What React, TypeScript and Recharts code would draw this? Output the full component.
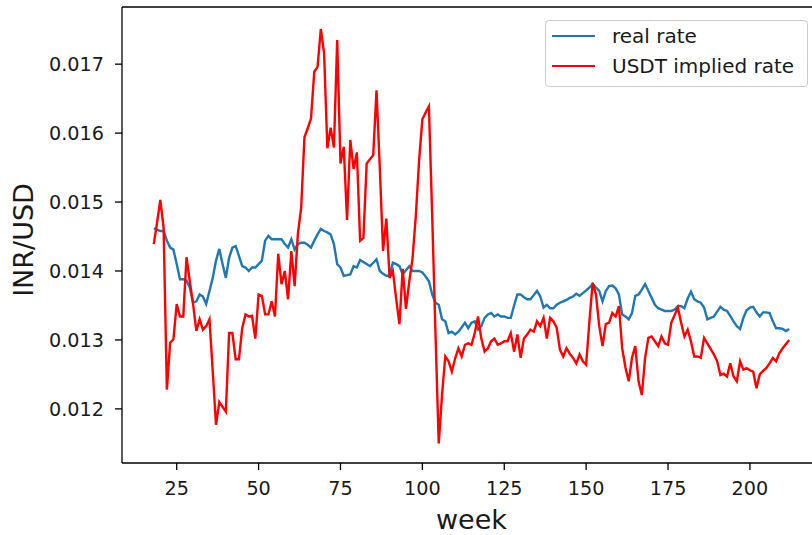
import { LineChart, Line, XAxis, YAxis, Legend, ReferenceLine } from "recharts";

// weekly values, first point is week 18
const firstWeek = 18;

const realRate = [
  0.01462, 0.0146, 0.01458, 0.01458, 0.01444, 0.01434, 0.01431, 0.0141, 0.01388, 0.01388,
  0.01386, 0.01376, 0.01354, 0.01356, 0.01366, 0.01363, 0.01352, 0.01371, 0.0139, 0.01415,
  0.01432, 0.0141, 0.0139, 0.01419, 0.01434, 0.01436, 0.01422, 0.01407, 0.01405, 0.014,
  0.01405, 0.01405, 0.0141, 0.01415, 0.01444, 0.01451, 0.01446, 0.01446, 0.01446, 0.01446,
  0.01439, 0.01434, 0.01446, 0.01431, 0.01439, 0.01441, 0.01441, 0.01438, 0.01434, 0.01444,
  0.01453, 0.01461, 0.01458, 0.01456, 0.01453, 0.01439, 0.0141, 0.01405, 0.01393, 0.01394,
  0.01395, 0.01407, 0.01405, 0.01416, 0.01413, 0.0141, 0.01407, 0.01412, 0.01417, 0.014,
  0.01396, 0.01393, 0.01393, 0.01412, 0.0141, 0.01407, 0.01395, 0.01401, 0.01407, 0.014,
  0.014, 0.014, 0.01398, 0.01392, 0.01385, 0.01366, 0.01354, 0.01351, 0.0133, 0.01327,
  0.0131, 0.01312, 0.01308, 0.01312, 0.01318, 0.01325, 0.01317, 0.01325, 0.01327, 0.01315,
  0.0132, 0.01332, 0.01337, 0.01339, 0.01334, 0.01337, 0.01334, 0.01334, 0.01332, 0.01332,
  0.0135, 0.01366, 0.01366, 0.01362, 0.01359, 0.01359, 0.01365, 0.01371, 0.01363, 0.01347,
  0.01351, 0.01346, 0.01346, 0.01351, 0.01354, 0.01356, 0.01358, 0.01361, 0.01363, 0.01367,
  0.01364, 0.01368, 0.01372, 0.01376, 0.01381, 0.01376, 0.01371, 0.01356, 0.01371, 0.01378,
  0.01379, 0.01375, 0.01366, 0.01337, 0.01334, 0.0133, 0.01339, 0.01364, 0.01366, 0.01373,
  0.01381, 0.01371, 0.01361, 0.01351, 0.01346, 0.01344, 0.01342, 0.01342, 0.01342, 0.01344,
  0.01349, 0.01349, 0.01346, 0.0136, 0.0137, 0.01359, 0.01356, 0.01354, 0.01347, 0.0133,
  0.01332, 0.01334, 0.01341, 0.01348, 0.01344, 0.01342, 0.01335, 0.01327, 0.0132, 0.01316,
  0.01332, 0.01343, 0.01347, 0.01348, 0.0134, 0.01334, 0.0134, 0.0134, 0.01339, 0.01327,
  0.01317, 0.01317, 0.01316, 0.01313, 0.01316,
];

const usdtRate = [
  0.01439, 0.0147, 0.01503, 0.01463, 0.01228, 0.01296, 0.01301, 0.01352, 0.01334, 0.01334,
  0.0142, 0.01385, 0.01352, 0.01313, 0.0133, 0.01315, 0.0132, 0.0133, 0.01255, 0.01177,
  0.0121, 0.01203, 0.01196, 0.0131, 0.0131, 0.01272, 0.01272, 0.01317, 0.01337, 0.01334,
  0.01335, 0.01302, 0.01366, 0.01364, 0.01337, 0.01337, 0.01356, 0.01334, 0.01425, 0.01381,
  0.014, 0.01359, 0.01429, 0.01378, 0.01454, 0.01492, 0.01594, 0.01607, 0.01621, 0.01689,
  0.01696, 0.01751, 0.01716, 0.01578, 0.01608, 0.01579, 0.01735, 0.01556, 0.0158, 0.01474,
  0.0159, 0.01548, 0.01572, 0.01444, 0.01448, 0.01556, 0.01562, 0.01568, 0.01662, 0.0155,
  0.01429, 0.01476, 0.0139, 0.014, 0.0136, 0.01323, 0.01403, 0.01345, 0.01385, 0.01418,
  0.0148, 0.0156, 0.0162, 0.0163, 0.01639, 0.0148, 0.0131, 0.0115, 0.0122, 0.01276,
  0.01269, 0.01254, 0.01273, 0.01288, 0.01276, 0.01293, 0.01295, 0.01293, 0.0131, 0.01334,
  0.01302, 0.01283, 0.01288, 0.01298, 0.01302, 0.01293, 0.01295, 0.01298, 0.01298, 0.0131,
  0.01283, 0.01308, 0.01274, 0.01302, 0.01308, 0.01315, 0.01312, 0.01327, 0.0132, 0.01332,
  0.01302, 0.01332, 0.01327, 0.01318, 0.01286, 0.01276, 0.01288, 0.0128, 0.01274, 0.01266,
  0.01279, 0.01269, 0.01264, 0.01327, 0.01383, 0.01366, 0.0132, 0.01291, 0.01323, 0.01325,
  0.01339, 0.01334, 0.01349, 0.01288, 0.0126, 0.0124, 0.01274, 0.01291, 0.0124, 0.0122,
  0.01274, 0.01303, 0.01305, 0.01298, 0.01291, 0.01305, 0.01295, 0.01293, 0.01325, 0.01336,
  0.01347, 0.01325, 0.01305, 0.01315, 0.01298, 0.01276, 0.01276, 0.01274, 0.01303, 0.01295,
  0.01287, 0.01279, 0.01269, 0.01249, 0.01251, 0.01247, 0.01266, 0.01247, 0.0124, 0.01269,
  0.01257, 0.01259, 0.01256, 0.01254, 0.0123, 0.0125, 0.01255, 0.01259, 0.01266, 0.01274,
  0.01269, 0.01281, 0.01288, 0.01294, 0.013,
];

const seriesNames = ["real rate", "USDT implied rate"];
const weekTicks = [25, 50, 75, 100, 125, 150, 175, 200];
const rateTicks = [0.012, 0.013, 0.014, 0.015, 0.016, 0.017];

const data = realRate.map((v, i) => ({
  week: firstWeek + i,
  real: v,
  usdt: usdtRate[i],
}));

const xDomain = [8.3, 221.7];
const yDomain = [0.011215, 0.017829];

const font = "'DejaVu Sans', sans-serif";
const textColor = "#1a1a1a";

function LegendBox({ payload }: any) {
  const items = [...(payload || [])].sort(
    (a: any, b: any) => seriesNames.indexOf(a.value) - seriesNames.indexOf(b.value)
  );
  return (
    <div
      style={{
        width: 263,
        boxSizing: "border-box",
        background: "rgba(255,255,255,0.8)",
        border: "1px solid #cccccc",
        borderRadius: 4,
        padding: "0 8px 5px 6px",
        fontFamily: font,
        fontSize: 20,
        color: textColor,
      }}
    >
      {items.map((p: any) => (
        <div
          key={p.value}
          style={{ display: "flex", alignItems: "center", height: 30 }}
        >
          <span
            style={{
              display: "inline-block",
              width: 43,
              borderTop: `2.4px solid ${p.color}`,
              marginRight: 17,
            }}
          />
          <span>{p.value}</span>
        </div>
      ))}
    </div>
  );
}

export default function App() {
  return (
    <div
      style={{
        position: "absolute",
        left: 0,
        top: 0,
        width: 812,
        height: 535,
        overflow: "hidden",
        background: "#fff",
      }}
    >
      <LineChart
        width={840}
        height={535}
        data={data}
        margin={{ top: 7, right: 19, bottom: 0, left: 0 }}
      >
        <XAxis
          dataKey="week"
          type="number"
          domain={xDomain}
          ticks={weekTicks}
          allowDataOverflow
          height={72}
          tickSize={7}
          tickMargin={11}
          axisLine={{ stroke: "#000", strokeWidth: 1.3 }}
          tickLine={{ stroke: "#000", strokeWidth: 1.3 }}
          tick={{ fill: textColor, fontSize: 19.2, fontFamily: font }}
          label={({ viewBox }: any) => (
            <text
              x={viewBox.x + viewBox.width / 2}
              y={viewBox.y + viewBox.height - 6}
              textAnchor="middle"
              fontFamily={font}
              fontSize={27}
              fill={textColor}
            >
              week
            </text>
          )}
        />
        <YAxis
          type="number"
          domain={yDomain}
          ticks={rateTicks}
          allowDataOverflow
          width={122}
          tickSize={7}
          tickMargin={11}
          tickFormatter={(v: number) => v.toFixed(3)}
          axisLine={{ stroke: "#000", strokeWidth: 1.3 }}
          tickLine={{ stroke: "#000", strokeWidth: 1.3 }}
          tick={{ fill: textColor, fontSize: 19.2, fontFamily: font }}
          label={({ viewBox }: any) => {
            const cx = viewBox.x + 23;
            const cy = viewBox.y + viewBox.height / 2 + 5;
            return (
              <text
                x={cx}
                y={cy}
                transform={`rotate(-90, ${cx}, ${cy})`}
                textAnchor="middle"
                dominantBaseline="central"
                fontFamily={font}
                fontSize={27}
                fill={textColor}
              >
                INR/USD
              </text>
            );
          }}
        />
        {/* top spine of the axes frame */}
        <ReferenceLine y={yDomain[1]} stroke="#000" strokeWidth={1.3} />
        <Legend
          layout="vertical"
          align="center"
          verticalAlign="middle"
          content={<LegendBox />}
          wrapperStyle={{
            left: 545,
            top: 20,
            right: "auto",
            bottom: "auto",
            width: 263,
          }}
        />
        <Line
          type="linear"
          dataKey="real"
          name={seriesNames[0]}
          stroke="#1f77b4"
          strokeWidth={2.4}
          dot={false}
          activeDot={false}
          isAnimationActive={false}
        />
        <Line
          type="linear"
          dataKey="usdt"
          name={seriesNames[1]}
          stroke="#ff0000"
          strokeWidth={2.4}
          dot={false}
          activeDot={false}
          isAnimationActive={false}
        />
      </LineChart>
    </div>
  );
}
